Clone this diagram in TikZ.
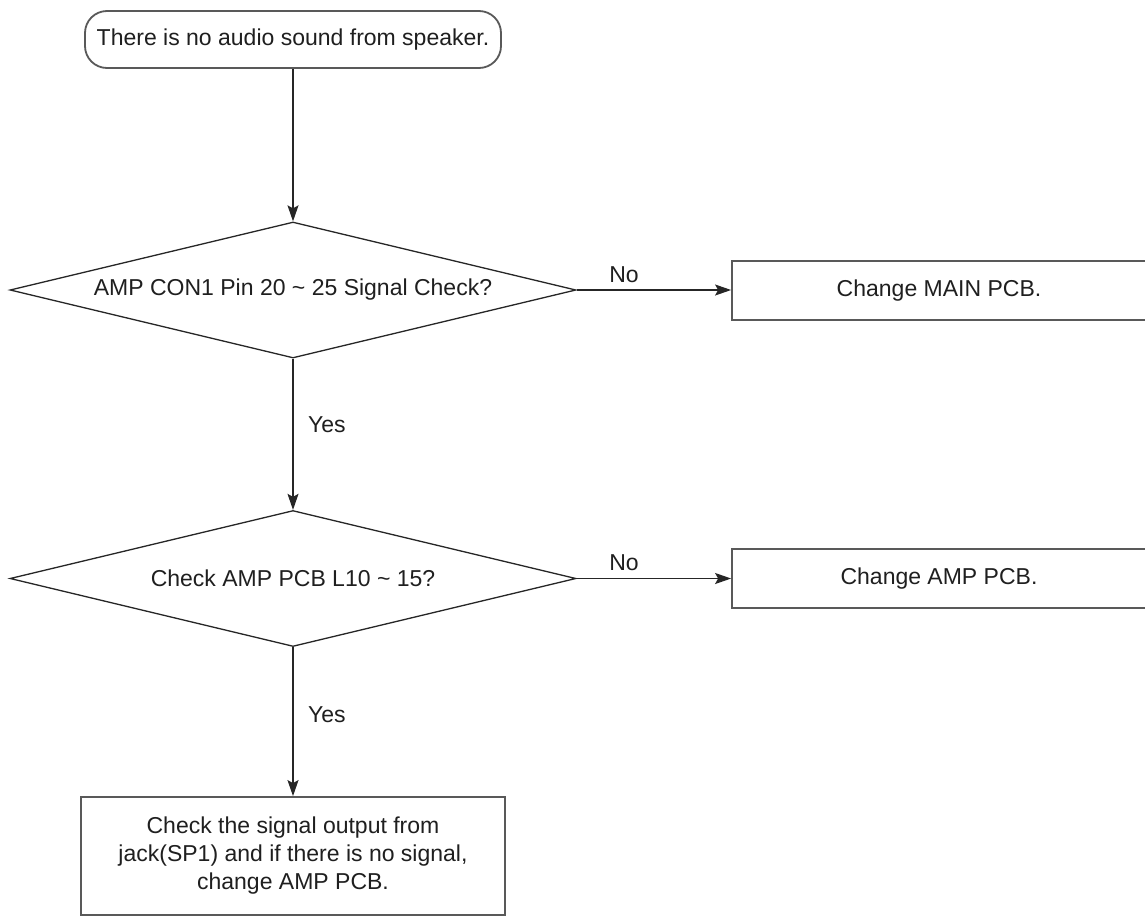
\documentclass[tikz,border=0pt]{standalone}
\usepackage{fontspec}
\setmainfont{Liberation Sans}
\usetikzlibrary{shapes.geometric,arrows.meta}
\begin{document}
\begin{tikzpicture}[x=1pt,y=-1pt,
  every node/.style={font=\fontsize{23}{28}\selectfont, text=black!88},
  line/.style={line width=1.3pt, draw=black!85},
  arr/.style={line, -{Stealth[length=16pt,width=11pt,inset=3pt]}},
  decision/.style={diamond, draw=black!85, line width=1.3pt, inner sep=0pt, minimum width=566pt, minimum height=136pt, aspect=4.16},
  proc/.style={rectangle, draw=black!65, line width=1.8pt, inner sep=0pt, align=center},
  lbl/.style={inner sep=0pt, anchor=base}]
\clip (0,0) rectangle (1145,916);
\fill[white] (0,0) rectangle (1145,916);
\node[proc, rounded corners=22pt, minimum width=416pt, minimum height=57pt] (start) at (293,39.5) {There is no audio sound from speaker.};
\node[decision] (d1) at (293,290) {AMP CON1 Pin 20 \textasciitilde{} 25 Signal Check?};
\node[proc, minimum width=414pt, minimum height=59pt] (b1) at (939,290.5) {Change MAIN PCB.};
\node[decision] (d2) at (293,578.5) {Check AMP PCB L10 \textasciitilde{} 15?};
\node[proc, minimum width=414pt, minimum height=59pt] (b2) at (939,578.5) {Change AMP PCB.};
\node[proc, minimum width=424pt, minimum height=118pt] (b3) at (293,856) {Check the signal output from\\jack(SP1) and if there is no signal,\\change AMP PCB.};
\node[lbl] (no1) at (624,282) {No};
\node[lbl] (no2) at (624,570) {No};
\node[lbl, anchor=base west] (yes1) at (308,432) {Yes};
\node[lbl, anchor=base west] (yes2) at (308,722) {Yes};
\draw[arr] (start.south) -- (d1.north);
\draw[arr] (d1.east) -- (d1.east -| b1.west);
\draw[arr] (d1.south) -- (d2.north);
\draw[arr] (d2.east) -- (d2.east -| b2.west);
\draw[arr] (d2.south) -- (b3.north);
\end{tikzpicture}
\end{document}
